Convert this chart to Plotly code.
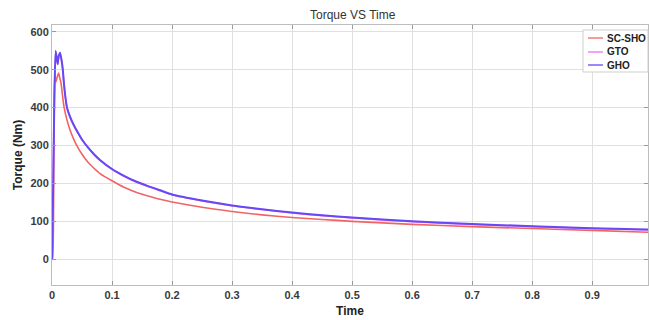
import plotly.graph_objects as go

# Time samples (s) and torque values (Nm)
t_gho = [0, 0.002, 0.004, 0.006, 0.008, 0.0095, 0.011, 0.0135, 0.016, 0.018, 0.02, 0.022,
         0.025, 0.03, 0.035, 0.04, 0.05, 0.06, 0.07, 0.08, 0.1, 0.12, 0.14, 0.16, 0.18,
         0.2, 0.25, 0.3, 0.35, 0.4, 0.45, 0.5, 0.6, 0.7, 0.8, 0.9, 1.0]
gho = [0, 200, 430, 550, 530, 515, 535, 545, 525, 500, 462, 432,
       400, 376, 358, 343, 316, 295, 277, 262, 238, 220, 205, 193, 182,
       171, 155, 142, 132, 123, 116, 110, 100, 93, 87, 82, 78]
gto = [0, 198, 428, 548, 529, 514, 533, 543, 524, 499, 461, 431,
       399, 375, 357, 342, 315, 294, 276, 261, 237, 219, 204, 192, 181,
       170, 154, 141, 131, 122, 115, 109, 99, 92, 86, 81, 77]

t_sc = [0, 0.001, 0.003, 0.0045, 0.0065, 0.0085, 0.011, 0.013, 0.015, 0.0175, 0.02,
        0.025, 0.03, 0.035, 0.04, 0.05, 0.06, 0.07, 0.08, 0.1, 0.12, 0.14, 0.16, 0.18,
        0.2, 0.25, 0.3, 0.35, 0.4, 0.45, 0.5, 0.6, 0.7, 0.8, 0.9, 1.0]
sc_sho = [0, 0, 300, 490, 467, 480, 491, 478, 465, 432, 402,
          367, 341, 321, 304, 277, 256, 240, 226, 207, 190, 177, 167, 158,
          151, 137, 126, 117, 110, 105, 100, 92, 86, 81, 76, 71]

series_names = ["SC-SHO", "GTO", "GHO"]
series_colors = ["#f26464", "#f070f0", "#6848f5"]

x_ticks = [0, 0.1, 0.2, 0.3, 0.4, 0.5, 0.6, 0.7, 0.8, 0.9]
y_ticks = [0, 100, 200, 300, 400, 500, 600]

fig = go.Figure()
fig.add_trace(go.Scatter(x=t_sc, y=sc_sho, mode="lines", name=series_names[0],
                         line=dict(color=series_colors[0], width=1.6, shape="spline", smoothing=0.5)))
fig.add_trace(go.Scatter(x=t_gho, y=gto, mode="lines", name=series_names[1],
                         line=dict(color=series_colors[1], width=1.6, shape="spline", smoothing=0.5)))
fig.add_trace(go.Scatter(x=t_gho, y=gho, mode="lines", name=series_names[2],
                         line=dict(color=series_colors[2], width=2, shape="spline", smoothing=0.5)))

FONT = "Liberation Sans, Arial"
axis_font = dict(family=FONT, size=11, color="#3a3a3a", weight="bold")

# plot area in pixels: left 52, right 648, top 25, bottom 285
L, R, T, B = 52, 648, 25, 285
def px(x):
    return (x - L) / (R - L)
def py(y):
    return (B - y) / (B - T)

shapes = [dict(type="rect", xref="paper", yref="paper",
               x0=px(583), x1=px(648), y0=py(72), y1=py(30),
               fillcolor="white", line=dict(color="#cfcfcf", width=1), layer="above")]
annotations = [dict(text="Torque VS Time", xref="paper", yref="paper",
                    x=px(353), y=py(15), xanchor="center", yanchor="middle", showarrow=False,
                    font=dict(family=FONT, size=12, color="#333333"))]
item_y = [38, 52, 65]
for name, col, yy in zip(series_names, series_colors, item_y):
    shapes.append(dict(type="line", xref="paper", yref="paper",
                       x0=px(588), x1=px(603), y0=py(yy), y1=py(yy),
                       line=dict(color=col, width=1.3), layer="above"))
    annotations.append(dict(text=name, xref="paper", yref="paper",
                            x=px(605), y=py(yy), xanchor="left", yanchor="middle", showarrow=False,
                            font=dict(family=FONT, size=10, color="#222222", weight="bold")))

fig.update_layout(
    width=649, height=320,
    margin=dict(l=L, r=649 - R, t=T, b=320 - B, autoexpand=False),
    paper_bgcolor="white", plot_bgcolor="white",
    showlegend=False,
    shapes=shapes, annotations=annotations,
    xaxis=dict(range=[0, 0.993], tickvals=x_ticks, ticktext=[str(v) for v in x_ticks],
               automargin=False,
               showgrid=True, gridcolor="#e0e0e0", gridwidth=1,
               showline=True, linecolor="#bdbdbd", mirror="ticks",
               ticks="inside", ticklen=4, tickcolor="#9a9a9a",
               zeroline=False, tickfont=axis_font,
               title=dict(text="Time", font=dict(family=FONT, size=12,
                                                 color="#222222", weight="bold"), standoff=6)),
    yaxis=dict(range=[-68, 618], tickvals=y_ticks, automargin=False,
               showgrid=True, gridcolor="#e0e0e0", gridwidth=1,
               showline=True, linecolor="#bdbdbd", mirror="ticks",
               ticks="inside", ticklen=4, tickcolor="#9a9a9a",
               zeroline=False, tickfont=axis_font,
               title=dict(text="Torque (Nm)", font=dict(family=FONT, size=12,
                                                        color="#222222", weight="bold"), standoff=5)),
)

fig.write_html("out.html", config={"displayModeBar": False},
               post_script="document.body.style.margin='0';document.body.style.overflow='hidden';")
